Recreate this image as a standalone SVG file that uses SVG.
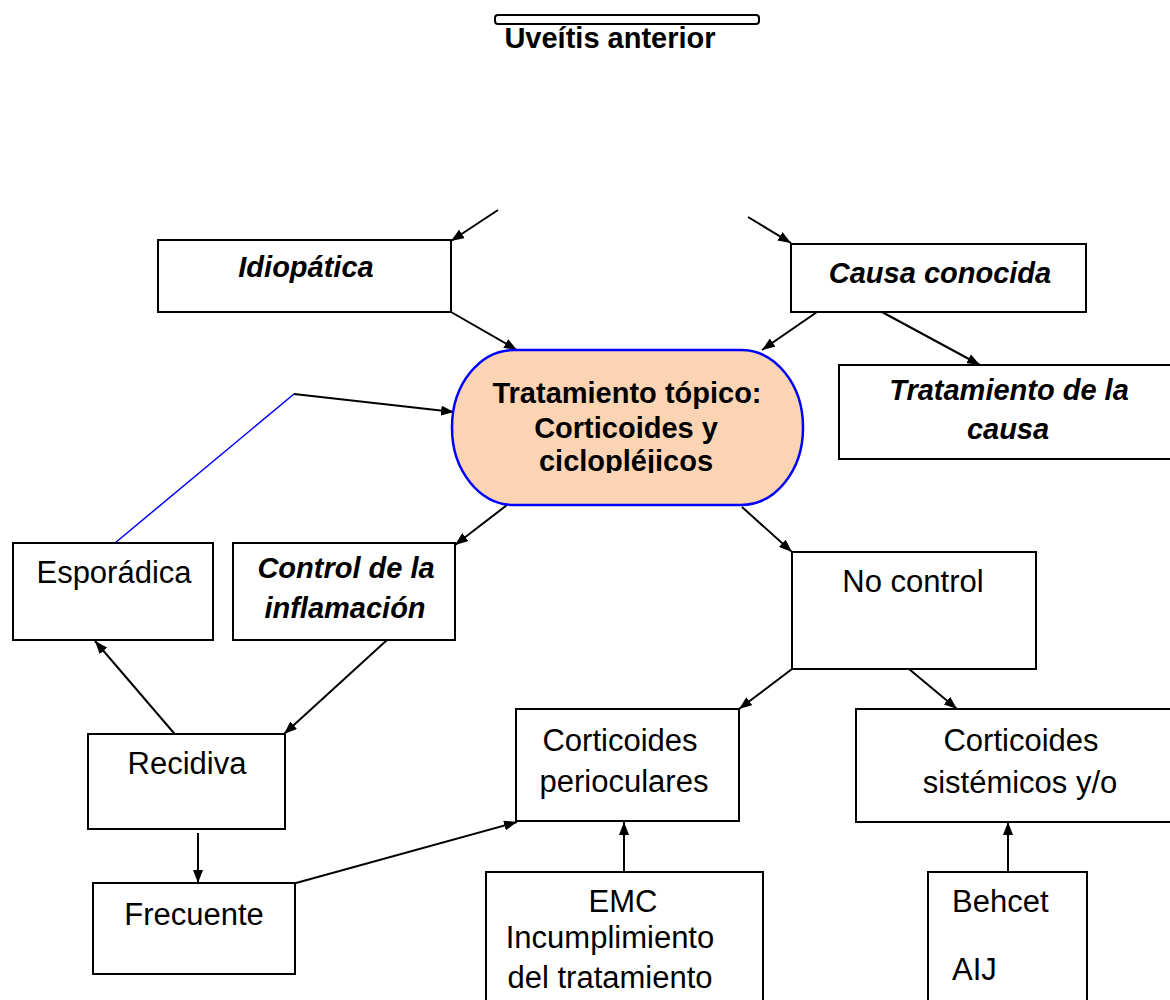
<svg xmlns="http://www.w3.org/2000/svg" width="1170" height="1000" viewBox="0 0 1170 1000">
<style>
.box{fill:#fff;stroke:#000;stroke-width:2}
.reg{font-family:"Liberation Sans",Arial,sans-serif;font-size:31px;fill:#000}
.bold{font-family:"Liberation Sans",Arial,sans-serif;font-size:29px;font-weight:bold;fill:#000}
.bi{font-family:"Liberation Sans",Arial,sans-serif;font-size:29px;font-weight:bold;font-style:italic;fill:#000}
.c{text-anchor:middle}
.ln{fill:none;stroke:#000;stroke-width:2}
.ar{marker-end:url(#ah)}
</style>
<defs>
<marker id="ah" markerUnits="userSpaceOnUse" markerWidth="14" markerHeight="10" refX="13" refY="5" orient="auto">
<path d="M0,0 L13,5 L0,10 z" fill="#000"/>
</marker>
<clipPath id="ellclip"><rect x="440" y="340" width="380" height="133"/></clipPath>
</defs>
<rect width="1170" height="1000" fill="#fff"/>

<g id="title">
<rect x="495" y="15" width="264" height="9" rx="3" class="box"/>
<text x="610" y="48" class="bold c">Uveítis anterior</text>
</g>

<g id="connectors">
<line x1="498" y1="210" x2="451" y2="241" class="ln ar"/>
<line x1="748" y1="217" x2="791" y2="243" class="ln ar"/>
<line x1="451" y1="312" x2="517" y2="350" class="ln ar"/>
<line x1="817" y1="312" x2="762" y2="350" class="ln ar"/>
<line x1="882" y1="312" x2="980" y2="365" class="ln ar"/>
<line x1="115" y1="543" x2="294" y2="394" stroke="#0000ff" stroke-width="1.5"/>
<line x1="294" y1="394" x2="454" y2="412" class="ln ar"/>
<line x1="507" y1="505" x2="455" y2="545" class="ln ar"/>
<line x1="742" y1="507" x2="792" y2="552" class="ln ar"/>
<line x1="792" y1="669" x2="739" y2="709" class="ln ar"/>
<line x1="909" y1="669" x2="957" y2="709" class="ln ar"/>
<line x1="179" y1="739" x2="95" y2="641" class="ln ar"/>
<line x1="387" y1="640" x2="284" y2="734" class="ln ar"/>
<line x1="198" y1="833" x2="198" y2="883" class="ln ar"/>
<line x1="296" y1="883" x2="517" y2="822" class="ln ar"/>
<line x1="624" y1="880" x2="624" y2="822" class="ln ar"/>
<line x1="1008" y1="882" x2="1008" y2="822" class="ln ar"/>
</g>

<g id="idiopatica">
<rect x="158" y="240" width="293" height="72" class="box"/>
<text x="306" y="277" class="bi c">Idiopática</text>
</g>

<g id="causa-conocida">
<rect x="791" y="244" width="295" height="68" class="box"/>
<text x="940" y="283" class="bi c">Causa conocida</text>
</g>

<g id="tratamiento-causa">
<rect x="839" y="365" width="345" height="94" class="box"/>
<text x="1009" y="400" class="bi c">Tratamiento de la</text>
<text x="1008" y="439" class="bi c">causa</text>
</g>

<g id="tratamiento-topico">
<rect x="452" y="350" width="351" height="155" rx="62" ry="77" fill="#fbd4b4" stroke="#0000ff" stroke-width="2.5"/>
<text x="627" y="403" class="bold c">Tratamiento tópico:</text>
<text x="626" y="438" class="bold c">Corticoides y</text>
<g clip-path="url(#ellclip)"><text x="626" y="471" class="bold c">ciclopléjicos</text></g>
</g>

<g id="esporadica">
<rect x="13" y="543" width="200" height="97" class="box"/>
<text x="114" y="583" class="reg c">Esporádica</text>
</g>

<g id="control">
<rect x="233" y="543" width="222" height="97" class="box"/>
<text x="346" y="578" class="bi c">Control de la</text>
<text x="345" y="618" class="bi c">inflamación</text>
</g>

<g id="no-control">
<rect x="792" y="552" width="244" height="117" class="box"/>
<text x="913" y="592" class="reg c">No control</text>
</g>

<g id="recidiva">
<rect x="88" y="734" width="197" height="95" class="box"/>
<text x="187" y="774" class="reg c">Recidiva</text>
</g>

<g id="frecuente">
<rect x="93" y="883" width="202" height="91" class="box"/>
<text x="194" y="925" class="reg c">Frecuente</text>
</g>

<g id="perioculares">
<rect x="516" y="709" width="223" height="112" class="box"/>
<text x="620" y="751" class="reg c">Corticoides</text>
<text x="624" y="792" class="reg c">perioculares</text>
</g>

<g id="sistemicos">
<rect x="856" y="709" width="330" height="113" class="box"/>
<text x="1021" y="751" class="reg c">Corticoides</text>
<text x="1020" y="793" class="reg c">sistémicos y/o</text>
</g>

<g id="emc">
<rect x="486" y="872" width="277" height="140" class="box"/>
<text x="623" y="912" class="reg c">EMC</text>
<text x="610" y="948" class="reg c">Incumplimiento</text>
<text x="610" y="988" class="reg c">del tratamiento</text>
</g>

<g id="behcet">
<rect x="928" y="872" width="159" height="140" class="box"/>
<text x="952" y="912" class="reg">Behcet</text>
<text x="952" y="980" class="reg">AIJ</text>
</g>
</svg>
